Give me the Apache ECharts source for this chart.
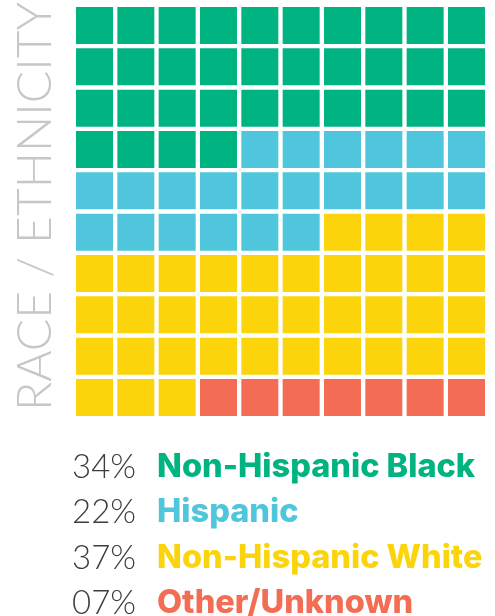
<!DOCTYPE html>
<html>
<head>
<meta charset="utf-8">
<script src="https://cdn.jsdelivr.net/npm/echarts@6/dist/echarts.min.js"></script>
<style>
  html, body { margin: 0; padding: 0; background: #fff; }
  #chart { width: 495px; height: 616px; }
</style>
</head>
<body>
<div id="chart"></div>
<script>
// waffle data: 100 squares, filled row by row from top-left
var categories = ['Non-Hispanic Black', 'Hispanic', 'Non-Hispanic White', 'Other/Unknown'];
var counts = [34, 22, 37, 7];
var pctLabels = ['34%', '22%', '37%', '07%'];
var colors = ['#00b482', '#4fc6db', '#fcd40c', '#f36d55'];
var cols = 10;

var myChart = echarts.init(document.getElementById('chart'));

// build one scatter series per category
var series = [];
var k = 0;
categories.forEach(function(name, i) {
    var pts = [];
    for (var n = 0; n < counts[i]; n++) {
        pts.push([k % cols + 0.5, Math.floor(k / cols) + 0.5]);
        k++;
    }
    series.push({
        name: name,
        type: 'scatter',
        symbol: 'rect',
        symbolSize: 37,
        itemStyle: { color: colors[i], opacity: 1 },
        data: pts,
        silent: true
    });
});

// legend rows as text
var legendTexts = [];
categories.forEach(function(name, i) {
    legendTexts.push({
        type: 'text',
        x: 72,
        y: 467 + i * 45.5,
        style: {
            text: '{p|' + pctLabels[i] + '}{n|' + name + '}',
            verticalAlign: 'middle',
            rich: {
                p: { fontFamily: 'Lato', fontWeight: 300, fontSize: 33, fill: '#3d3d3d', width: 85, lineHeight: 40 },
                n: { fontFamily: 'Inter', fontWeight: 800, fontSize: 32.5, fill: colors[i], lineHeight: 40 }
            }
        }
    });
});

var option = {
    animation: false,
    grid: { left: 73.85, top: 4.85, width: 413.3, height: 413.3 },
    xAxis: { type: 'value', min: 0, max: 10, show: false },
    yAxis: { type: 'value', min: 0, max: 10, inverse: true, show: false },
    graphic: [{
        type: 'text',
        x: 60,
        y: 411,
        rotation: Math.PI / 2,
        style: {
            text: 'RACE / ETHNICITY',
            fontFamily: 'Lato',
            fontWeight: 300,
            fontSize: 48,
            fill: '#c6c7c9',
            textAlign: 'left',
            textVerticalAlign: 'bottom'
        }
    }].concat(legendTexts),
    series: series
};

myChart.setOption(option);
</script>
</body>
</html>
